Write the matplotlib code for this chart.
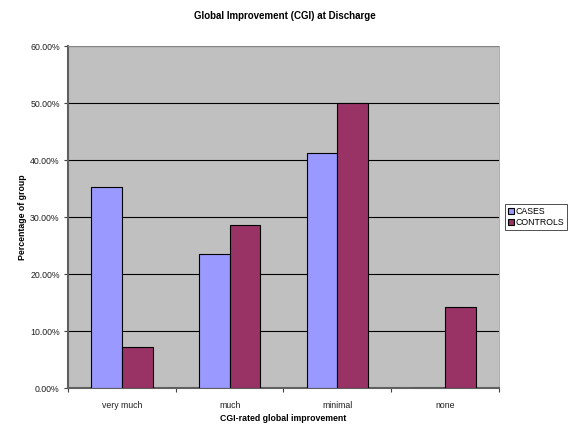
import numpy as np
import matplotlib.pyplot as plt
from matplotlib.ticker import MultipleLocator, FuncFormatter

plt.rcParams['font.family'] = ['Liberation Sans', 'DejaVu Sans']

categories = ["very much", "much", "minimal", "none"]
cases = [35.29, 23.53, 41.18, 0.0]
controls = [7.14, 28.57, 50.00, 14.29]

fig = plt.figure(figsize=(5.7, 4.24), dpi=100)
ax = fig.add_axes([0.1193, 0.0849, 0.7561, 0.8066])
ax.set_facecolor('#c0c0c0')

x = np.arange(len(categories))
w = 1 / 3.5
ax.bar(x - w / 2, cases, w, color='#9999ff', edgecolor='black', linewidth=0.8, label='CASES', zorder=3)
ax.bar(x + w / 2, controls, w, color='#993366', edgecolor='black', linewidth=0.8, label='CONTROLS', zorder=3)

ax.set_xlim(-0.5, len(categories) - 0.5)
ax.set_ylim(0, 60)
ax.yaxis.set_major_locator(MultipleLocator(10))
ax.yaxis.set_major_formatter(FuncFormatter(lambda v, p: f"{v:.2f}%"))
ax.grid(axis='y', color='black', linewidth=0.8, zorder=1)

ax.set_xticks(x)
ax.set_xticklabels(categories)
ax.set_xticks(np.arange(len(categories) + 1) - 0.5, minor=True)
ax.tick_params(axis='x', which='major', length=0, pad=9)
ax.tick_params(axis='x', which='minor', length=3, width=0.8, color='#404040')
ax.tick_params(axis='y', length=3, width=0.8, color='#404040', pad=3)
ax.tick_params(labelsize=6.3, labelcolor='#202020')

for side in ['left', 'bottom']:
    ax.spines[side].set_color('#606060')
    ax.spines[side].set_linewidth(1.5)
for side in ['top', 'right']:
    ax.spines[side].set_color('#a0a0a0')
    ax.spines[side].set_linewidth(0.6)

ax.set_xlabel("CGI-rated global improvement", fontsize=6.3, fontweight='bold', labelpad=3)
ax.set_ylabel("Percentage of group", fontsize=6.3, fontweight='bold')
ax.yaxis.set_label_coords(-0.095, 0.5)
fig.suptitle("Global Improvement (CGI) at Discharge", fontsize=7, fontweight='bold', y=0.975)

leg = ax.legend(loc='center left', bbox_to_anchor=(1.015, 0.5), fontsize=6.3,
                frameon=True, fancybox=False, edgecolor='black', handlelength=0.7,
                handleheight=0.7, handletextpad=0.2, borderpad=0.3, labelspacing=0.3,
                borderaxespad=0)
leg.get_frame().set_linewidth(0.6)

fig.savefig("out.png", dpi=100)
